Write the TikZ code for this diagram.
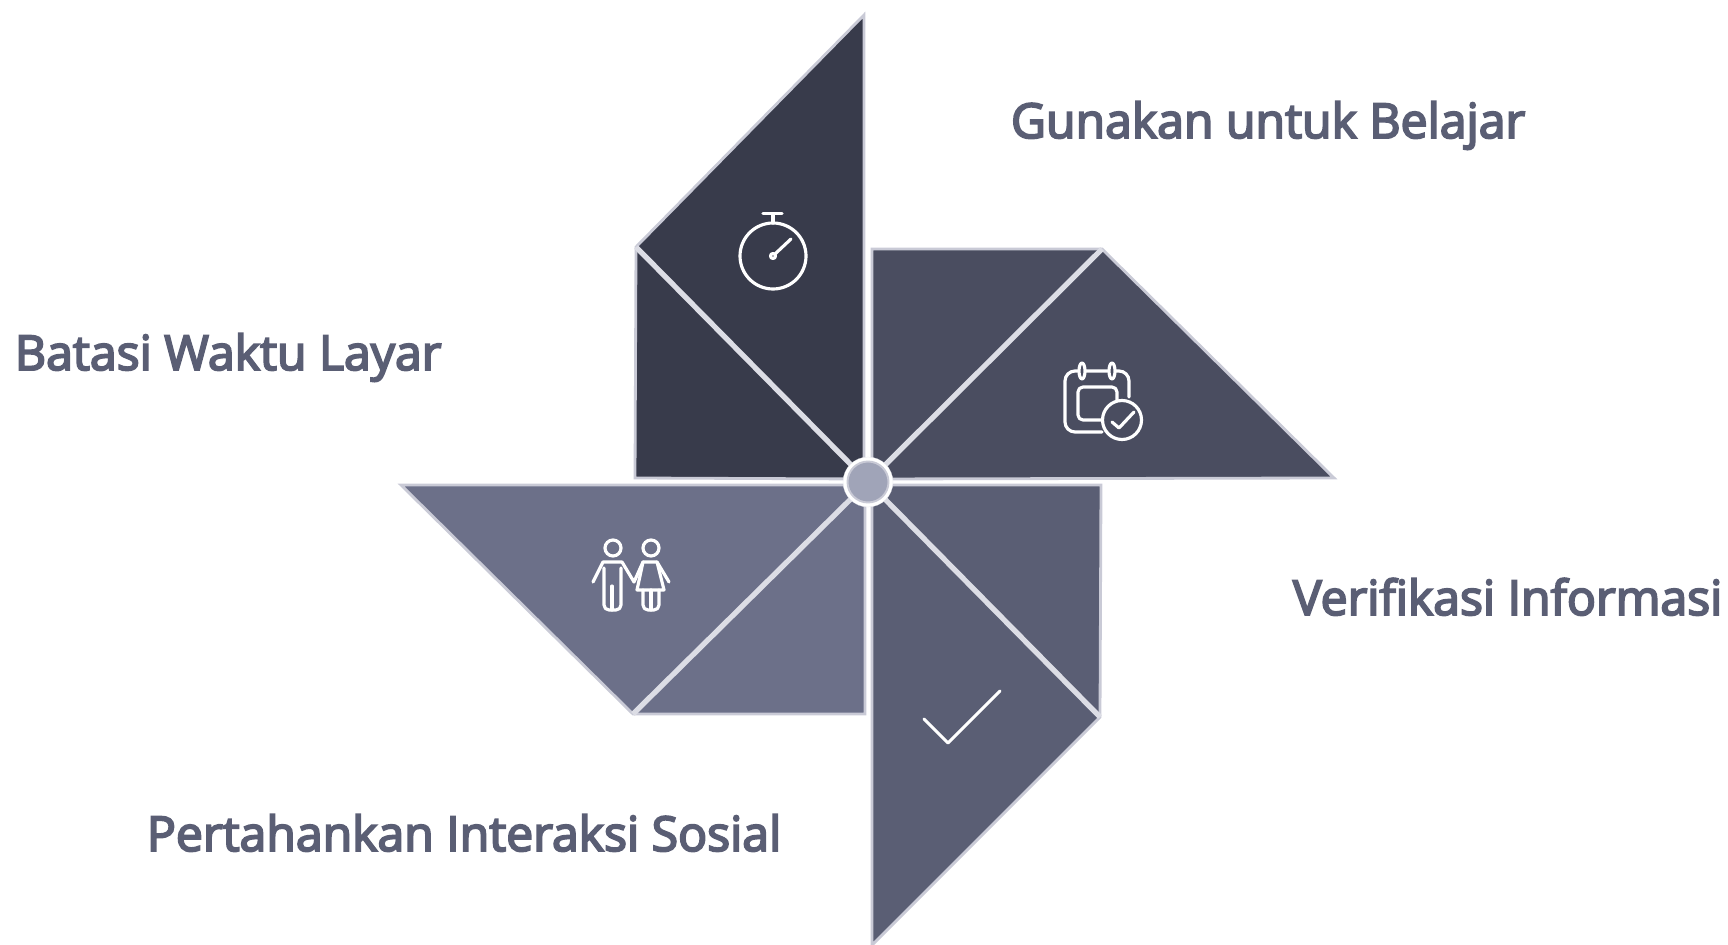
\documentclass[tikz,border=0pt]{standalone}
\usepackage{fontspec}
\setmainfont{Open Sans}[FakeBold=4]
\usepackage{tikz}

\begin{document}
\begin{tikzpicture}[x=0.02cm, y=-0.02cm, line width = 1.1pt,
		blade/.style = {draw = rim, line width = 1.6pt, line join = miter},
		spoke/.style = {draw = rimlight, line width = 3pt},
		glyph/.style = {draw = white, line width = 1.8pt, line cap = round, line join = round},
		caption/.style = {anchor = base west, text = textgray, font = \fontsize{27.4pt}{30pt}\selectfont, inner sep = 0pt}]

	\definecolor{rim}{HTML}{C9CAD6}
	\definecolor{rimlight}{HTML}{DCDDE5}
	\definecolor{textgray}{HTML}{5A5E74}
	\definecolor{bladea}{HTML}{383B4B}
	\definecolor{bladeb}{HTML}{4A4D60}
	\definecolor{bladec}{HTML}{5A5E74}
	\definecolor{blader}{HTML}{6C7089}
	\definecolor{hub}{HTML}{A0A4B8}

	\useasboundingbox (0,0) rectangle (1728,945);

	% blades
	\coordinate (c) at (868,482);
	\draw [blade, fill = bladea] (864,15) -- (636,247) -- (635,478) -- (864,479) -- cycle;
	\draw [blade, fill = bladeb] (872,249) -- (1102,249) -- (1334,478) -- (872,479) -- cycle;
	\draw [blade, fill = bladec] (1101,485) -- (1100,717) -- (872,945) -- (872,485) -- cycle;
	\draw [blade, fill = blader] (401,485) -- (633,714) -- (865,714) -- (865,485) -- cycle;

	\draw [spoke] (636,247) -- (c);
	\draw [spoke] (1102,249) -- (c);
	\draw [spoke] (1100,717) -- (c);
	\draw [spoke] (633,714) -- (c);

	\node [circle, draw = rimlight, fill = white, line width = 0.1pt, minimum size = 1.0cm, inner sep = 0pt] (ring) at (c) {};
	\node [circle, draw = rim, fill = hub, line width = 1.1pt, minimum size = 0.82cm, inner sep = 0pt] (hubdot) at (c) {};

	% timer
	\draw [glyph] (773,256) circle (33);
	\draw [glyph] (773,223) -- (773,214);
	\draw [glyph] (763,213.5) -- (782,213.5);
	\draw [glyph] (775,254) -- (791,239);
	\draw [glyph] (773,256) circle (2.5);

	% calendar
	\draw [glyph] (1129,397) -- (1129,381) arc (0:-90:10) -- (1075,371) arc (-90:-180:10)
		-- (1065,422) arc (180:90:10) -- (1102,432);
	\draw [glyph] (1117,400) -- (1117,392) arc (0:-90:5) -- (1083,387) arc (-90:-180:5)
		-- (1078,415) arc (180:90:5) -- (1102,420);
	\draw [glyph, fill = bladeb] (1082,371) ellipse (3 and 8);
	\draw [glyph, fill = bladeb] (1112,371) ellipse (3 and 8);
	\draw [glyph, fill = bladeb] (1122,420) circle (19.5);
	\draw [glyph] (1112,422) -- (1119,428) -- (1134,412);

	% people
	\draw [glyph] (613,548) circle (8);
	\draw [glyph] (651,548) circle (8);
	\draw [glyph] (593,582) -- (603,562) -- (622,562) -- (634,582) -- (643,562) -- (657,562) -- (669,582);
	\draw [glyph] (604,568) -- (604,605) arc (180:90:5) -- (616,610) arc (90:0:5) -- (621,568);
	\draw [glyph] (612,586) -- (612,610);
	\draw [glyph] (643,562) -- (637,590) -- (664,590) -- (657,562);
	\draw [glyph] (643,590) -- (643,605) arc (180:90:5) -- (654,610) arc (90:0:5) -- (659,590);
	\draw [glyph] (651,590) -- (651,610);

	% check
	\draw [glyph] (924,719) -- (948,743) -- (1000,691);

	% captions
	\node [caption] (learn) at (1010,138) {Gunakan untuk Belajar};
	\node [caption] (limit) at (14,370) {Batasi Waktu Layar};
	\node [caption] (verify) at (1292,615) {Verifikasi Informasi};
	\node [caption] (social) at (146,851) {Pertahankan Interaksi Sosial};
\end{tikzpicture}
\end{document}
